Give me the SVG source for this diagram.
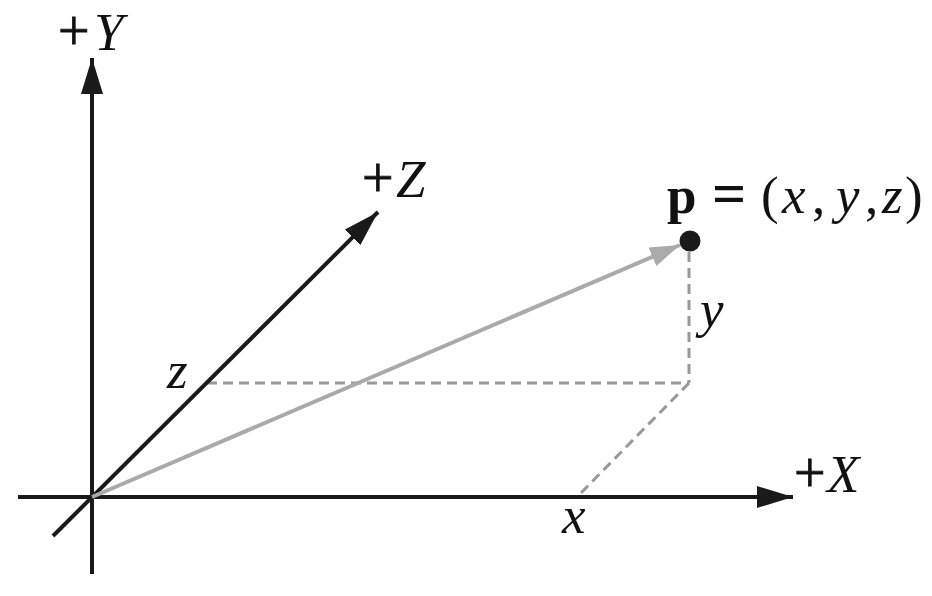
<svg xmlns="http://www.w3.org/2000/svg" width="932" height="596" viewBox="0 0 932 596">
<style>
.axis{stroke:#1a1a1a;stroke-width:4;fill:none}
.dash{stroke:#999;stroke-width:3;stroke-dasharray:10 6;fill:none}
.vec{stroke:#aaa;stroke-width:4;fill:none}
text{font-family:"Liberation Serif","DejaVu Serif",serif;font-size:53px;fill:#111}
.it{font-style:italic}
.bd{font-weight:bold}
.pl{font-size:56px;stroke:#111;stroke-width:0.8}
</style>
<defs>
<marker id="ah" markerUnits="userSpaceOnUse" markerWidth="40" markerHeight="24" refX="36" refY="11" orient="auto">
<path d="M0,0 L36,11 L0,22 Z" fill="#1a1a1a"/>
</marker>
<marker id="ahg" markerUnits="userSpaceOnUse" markerWidth="32" markerHeight="22" refX="30" refY="10" orient="auto">
<path d="M0,0 L30,10 L0,20 Z" fill="#aaa"/>
</marker>
</defs>
<g id="connectors">
<line id="dash-vertical" class="dash" x1="689" y1="252" x2="689" y2="383"/>
<line id="dash-horizontal" class="dash" x1="207" y1="383" x2="689" y2="383"/>
<line id="dash-diagonal" class="dash" x1="689" y1="383" x2="577" y2="497"/>
<line id="x-axis" class="axis" x1="18" y1="497" x2="793" y2="497" marker-end="url(#ah)"/>
<line id="y-axis" class="axis" x1="92" y1="574" x2="92" y2="58" marker-end="url(#ah)"/>
<line id="z-axis" class="axis" x1="53" y1="536" x2="378" y2="212" marker-end="url(#ah)"/>
<line id="vector-p" class="vec" x1="92" y1="497" x2="680" y2="245" marker-end="url(#ahg)"/>
</g>
<g id="point-p">
<circle cx="690" cy="241" r="10.5" fill="#1a1a1a"/>
<text x="667" y="213"><tspan class="bd">p</tspan><tspan x="712" style="font-size:60px;font-weight:bold">=</tspan><tspan x="761">(</tspan><tspan class="it" x="782">x</tspan><tspan x="812">,</tspan><tspan class="it" x="836">y</tspan><tspan x="865">,</tspan><tspan class="it" x="882">z</tspan><tspan x="905">)</tspan></text>
</g>
<g id="label-plusY"><text y="50"><tspan class="pl" x="58">+</tspan><tspan class="it" x="94">Y</tspan></text></g>
<g id="label-plusZ"><text y="197"><tspan class="pl" x="362">+</tspan><tspan class="it" x="396">Z</tspan></text></g>
<g id="label-plusX"><text y="492"><tspan class="pl" x="794">+</tspan><tspan class="it" x="827">X</tspan></text></g>
<g id="label-x"><text class="it" x="562" y="533">x</text></g>
<g id="label-y"><text class="it" x="700" y="327">y</text></g>
<g id="label-z"><text class="it" x="167" y="388">z</text></g>
</svg>
